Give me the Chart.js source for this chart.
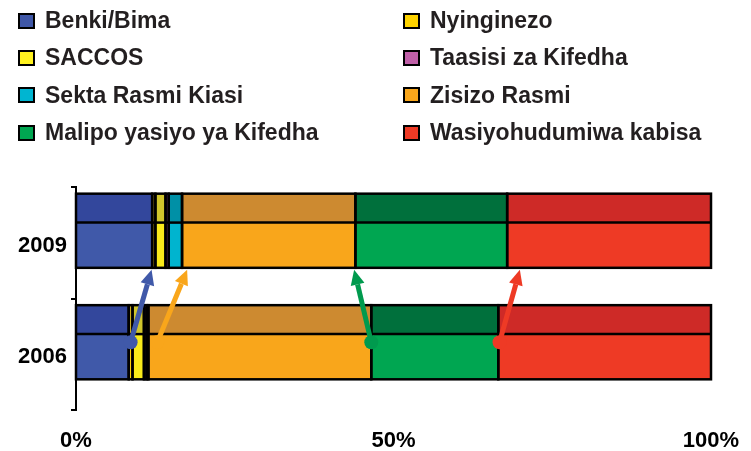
<!DOCTYPE html>
<html>
<head>
<meta charset="utf-8">
<script src="https://cdn.jsdelivr.net/npm/chart.js@4"></script>
<style>
    body { margin: 0; background: #fff; }
    #wrap { position: relative; width: 751px; height: 451px; }
    #legend {
        position: absolute; left: 18px; top: 2px;
        display: grid; grid-template-columns: 385px 340px; grid-auto-rows: 37.3px;
        font: bold 23px "Liberation Sans", Arial, sans-serif; color: #231f20;
    }
    .item { display: flex; align-items: center; white-space: nowrap; }
    .box { width: 17px; height: 16px; box-sizing: border-box; border: 2px solid #000; margin-right: 10px; }
</style>
</head>
<body>
<div id="wrap">
    <canvas id="financeChart" width="751" height="451"></canvas>
    <div id="legend"></div>
</div>
<script>
// Categories (years) and series, in stack order
const years = ['2009', '2006'];
const seriesNames = ['Benki/Bima', 'Nyinginezo', 'SACCOS', 'Taasisi za Kifedha',
    'Sekta Rasmi Kiasi', 'Zisizo Rasmi', 'Malipo yasiyo ya Kifedha', 'Wasiyohudumiwa kabisa'];
const benkiBima = [12.0, 8.3];
const nyinginezo = [0.5, 0.6];
const saccos = [1.6, 1.8];
const taasisi = [0.5, 0.4];
const sektaRasmiKiasi = [2.1, 0.3];
const zisizoRasmi = [27.3, 35.1];
const malipo = [23.9, 20.0];
const wasiyohudumiwa = [32.1, 33.5];
const xTicks = [0, 50, 100];

// Change arrows: position in 2006 (start) -> position in 2009 (tip), in percent
const arrowFrom = [8.6, 12.8, 46.5, 66.7];
const arrowTo = [11.9, 17.5, 43.8, 69.9];

const seriesColors = ['#4059a9', '#fdd20a', '#faeb1a', '#c45ba6', '#00b4cf', '#f9a61b', '#00a651', '#ee3a25'];
const darkColors = ['#33479c', '#d0ae20', '#d1c62c', '#a04c8c', '#0090a6', '#cd8a30', '#00703c', '#ce2a27'];
const legendColors = ['#3f57a7', '#ffd400', '#fff21f', '#c060a8', '#00b5d1', '#f9a61b', '#00a651', '#ee3a25'];
const arrowColors = ['#4059a9', '#f9a61b', '#009a4e', '#ee3a25'];

const seriesValues = [benkiBima, nyinginezo, saccos, taasisi, sektaRasmiKiasi, zisizoRasmi, malipo, wasiyohudumiwa];
const FONT = '"Liberation Sans", Arial, sans-serif';
const BAR_SHIFT = -12;

// HTML legend in two columns
const legend = document.getElementById('legend');
seriesNames.forEach((name, i) => {
    const item = document.createElement('div');
    item.className = 'item';
    item.innerHTML = `<span class="box" style="background:${legendColors[i]}"></span>${name}`;
    legend.appendChild(item);
});

function drawArrow(ctx, x1, y1, x2, y2, color) {
    const ang = Math.atan2(y2 - y1, x2 - x1);
    const head = 15, half = 7;
    const bx = x2 - Math.cos(ang) * head, by = y2 - Math.sin(ang) * head;
    ctx.save();
    ctx.strokeStyle = color;
    ctx.fillStyle = color;
    ctx.lineWidth = 5;
    ctx.beginPath();
    ctx.moveTo(x1, y1);
    ctx.lineTo(bx, by);
    ctx.stroke();
    ctx.beginPath();
    ctx.moveTo(x2, y2);
    ctx.lineTo(bx + Math.sin(ang) * half, by - Math.cos(ang) * half);
    ctx.lineTo(bx - Math.sin(ang) * half, by + Math.cos(ang) * half);
    ctx.closePath();
    ctx.fill();
    ctx.beginPath();
    ctx.arc(x1, y1, 7, 0, Math.PI * 2);
    ctx.fill();
    ctx.restore();
}

// Shaded top band, black outlines and the change arrows
const barStyle = {
    id: 'barStyle',
    beforeDatasetsDraw(chart) {
        chart.ctx.save();
        chart.ctx.translate(0, BAR_SHIFT);
    },
    afterDatasetsDraw(chart) {
        const ctx = chart.ctx;
        chart.data.datasets.forEach((ds, di) => {
            chart.getDatasetMeta(di).data.forEach(bar => {
                const left = Math.min(bar.base, bar.x), right = Math.max(bar.base, bar.x);
                const top = bar.y - bar.height / 2;
                ctx.fillStyle = darkColors[di];
                ctx.fillRect(left, top, right - left, bar.height * 0.39);
            });
        });
        ctx.strokeStyle = '#000';
        ctx.lineWidth = 2.5;
        chart.data.datasets.forEach((ds, di) => {
            chart.getDatasetMeta(di).data.forEach(bar => {
                const left = Math.min(bar.base, bar.x), right = Math.max(bar.base, bar.x);
                const top = bar.y - bar.height / 2;
                ctx.strokeRect(left, top, right - left, bar.height);
                ctx.beginPath();
                ctx.moveTo(left, top + bar.height * 0.39);
                ctx.lineTo(right, top + bar.height * 0.39);
                ctx.stroke();
            });
        });
        ctx.restore();

        const x = chart.scales.x;
        const bar09 = chart.getDatasetMeta(0).data[0];
        const bar06 = chart.getDatasetMeta(0).data[1];
        const yStart = bar06.y + BAR_SHIFT;
        const yTip = bar09.y + bar09.height / 2 + BAR_SHIFT + 2;
        arrowFrom.forEach((v, i) => {
            drawArrow(ctx, x.getPixelForValue(v), yStart, x.getPixelForValue(arrowTo[i]), yTip, arrowColors[i]);
        });
    }
};

new Chart(document.getElementById('financeChart'), {
    type: 'bar',
    data: {
        labels: years,
        datasets: seriesNames.map((name, i) => ({
            label: name,
            data: seriesValues[i],
            backgroundColor: seriesColors[i],
            borderWidth: 0
        }))
    },
    options: {
        indexAxis: 'y',
        responsive: false,
        animation: false,
        categoryPercentage: 1,
        barPercentage: 0.665,
        layout: { padding: { top: 187, right: 40, bottom: 1, left: 0 } },
        plugins: { legend: { display: false }, tooltip: { enabled: false } },
        scales: {
            x: {
                stacked: true,
                min: 0,
                max: 100,
                afterBuildTicks: scale => { scale.ticks = xTicks.map(v => ({ value: v })); },
                afterFit: scale => {
                    scale.height = 40;
                    scale.paddingLeft = 0;
                    scale.paddingRight = 0;
                },
                ticks: {
                    color: '#000',
                    padding: 20,
                    font: { family: FONT, size: 22, weight: 'bold', lineHeight: 1 },
                    callback: v => v + '%'
                },
                grid: { display: false, drawTicks: false },
                border: { display: false }
            },
            y: {
                stacked: true,
                offset: true,
                afterFit: scale => { scale.width = 76; },
                ticks: {
                    color: '#000',
                    padding: 4,
                    labelOffset: 3,
                    font: { family: FONT, size: 22, weight: 'bold' }
                },
                grid: { offset: true, drawOnChartArea: false, tickLength: 5, color: '#000', lineWidth: 2 },
                border: { display: true, color: '#000', width: 2 }
            }
        }
    },
    plugins: [barStyle]
});
</script>
</body>
</html>
